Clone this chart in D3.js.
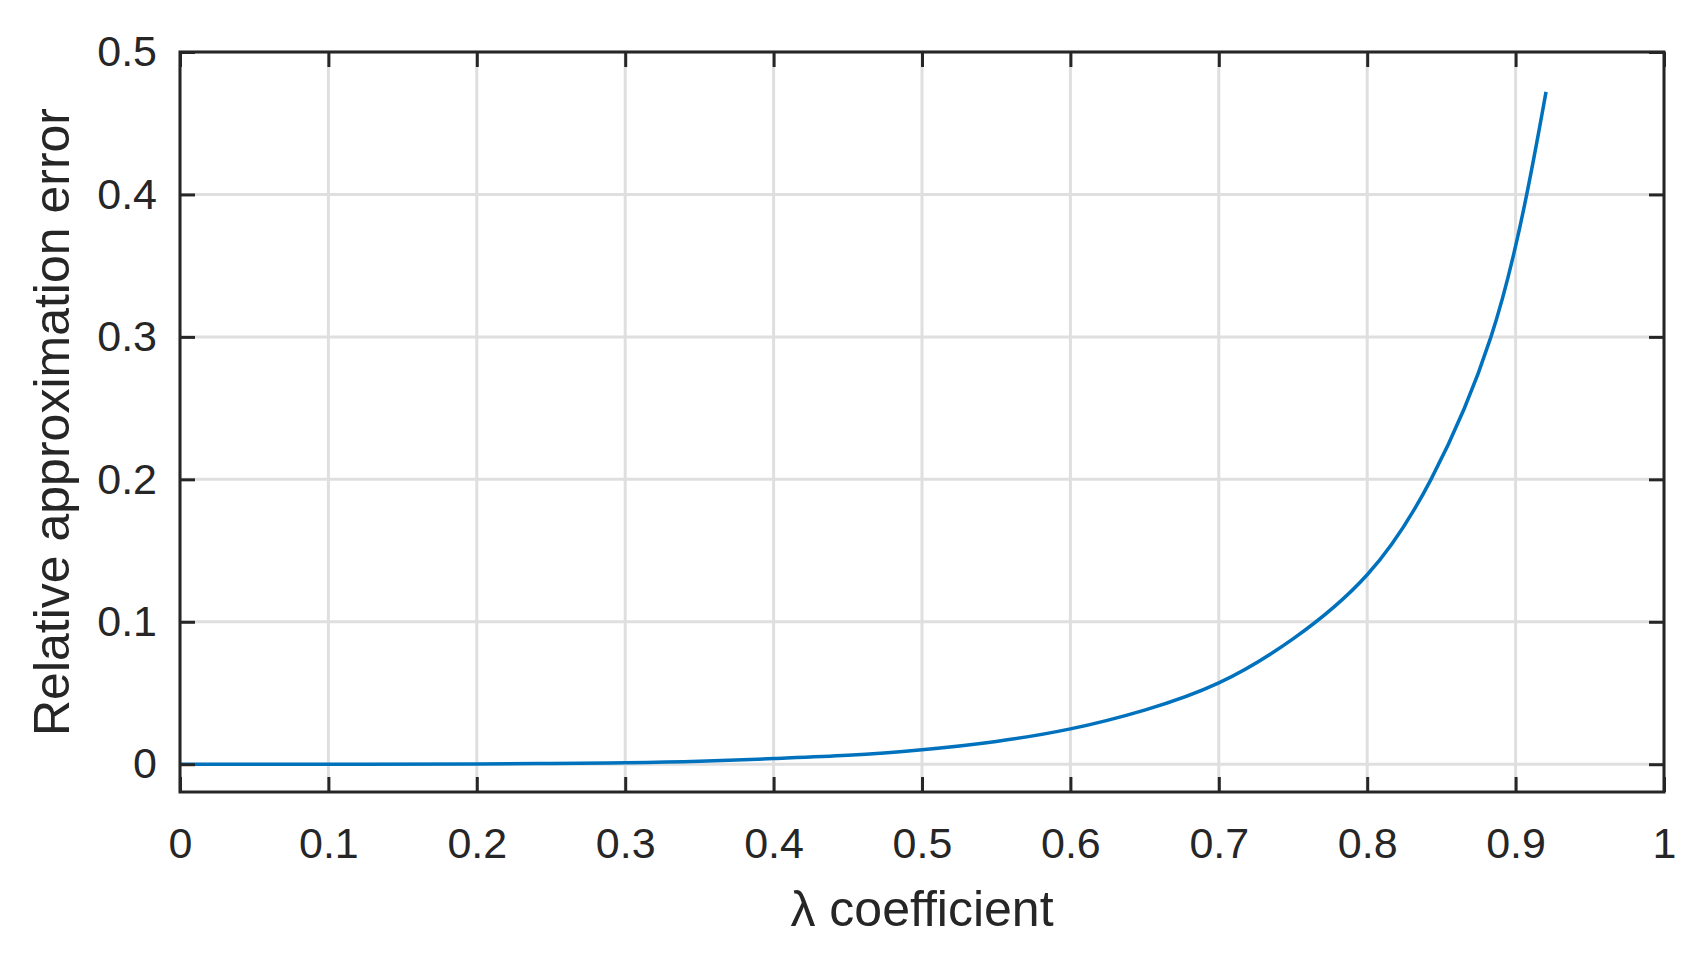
<!DOCTYPE html>
<html>
<head>
<meta charset="utf-8">
<script src="https://cdn.jsdelivr.net/npm/d3@7"></script>
<style>
  body { margin: 0; background: #fff; }
  svg text { font-family: "Liberation Sans", Arial, sans-serif; fill: #262626; }
</style>
</head>
<body>
<div id="chart"></div>
<script>
// values
const lambdaValues = [0, 0.1, 0.2, 0.25, 0.3, 0.35, 0.4, 0.45, 0.5, 0.55, 0.6, 0.65, 0.7, 0.75, 0.8, 0.843, 0.8834, 0.9075, 0.9205];
const errorValues = [0, 0.00001, 0.0002, 0.0005, 0.001, 0.002, 0.004, 0.0063, 0.0102, 0.016, 0.0248, 0.038, 0.0571, 0.088, 0.133, 0.2, 0.3, 0.4, 0.472];
const xTicks = [0, 0.1, 0.2, 0.3, 0.4, 0.5, 0.6, 0.7, 0.8, 0.9, 1];
const yTicks = [0, 0.1, 0.2, 0.3, 0.4, 0.5];

const W = 1708, H = 955;
const margin = {top: 52, right: 44, bottom: 163, left: 180};
const width = W - margin.left - margin.right;
const height = H - margin.top - margin.bottom;

const svg = d3.select("#chart").append("svg")
    .attr("width", W)
    .attr("height", H);

const g = svg.append("g")
    .attr("transform", `translate(${margin.left},${margin.top})`);

const x = d3.scaleLinear().domain([0, 1]).range([0, width]);
const y = d3.scaleLinear().domain([-0.0195, 0.5]).range([height, 0]);

// grid
g.append("g").selectAll("line").data(xTicks).join("line")
    .attr("x1", d => x(d)).attr("x2", d => x(d))
    .attr("y1", 0).attr("y2", height)
    .attr("stroke", "#dfdfdf").attr("stroke-width", 3);
g.append("g").selectAll("line").data(yTicks).join("line")
    .attr("x1", 0).attr("x2", width)
    .attr("y1", d => y(d)).attr("y2", d => y(d))
    .attr("stroke", "#dfdfdf").attr("stroke-width", 3);

// curve
const data = lambdaValues.map((d, i) => ({x: d, y: errorValues[i]}));
g.append("path")
    .datum(data)
    .attr("fill", "none")
    .attr("stroke", "#0072BD")
    .attr("stroke-width", 3.5)
    .attr("d", d3.line().x(d => x(d.x)).y(d => y(d.y)).curve(d3.curveNatural));

// axes with inward ticks on all four sides
const tickLen = 15;
const fmt = d => d3.format("")(d);
function styleAxis(sel) {
    sel.select(".domain").remove();
    sel.selectAll(".tick line").attr("stroke", "#262626").attr("stroke-width", 3);
    sel.selectAll(".tick text").style("font-size", "43px");
}
g.append("g").attr("transform", `translate(0,${height})`)
    .call(d3.axisBottom(x).tickValues(xTicks).tickFormat(fmt).tickSizeInner(-tickLen).tickPadding(35))
    .call(styleAxis);
g.append("g")
    .call(d3.axisTop(x).tickValues(xTicks).tickFormat("").tickSizeInner(-tickLen))
    .call(styleAxis);
g.append("g")
    .call(d3.axisLeft(y).tickValues(yTicks).tickFormat(fmt).tickSizeInner(-tickLen).tickPadding(23))
    .call(styleAxis);
g.append("g").attr("transform", `translate(${width},0)`)
    .call(d3.axisRight(y).tickValues(yTicks).tickFormat("").tickSizeInner(-tickLen))
    .call(styleAxis);

// box
g.append("rect")
    .attr("width", width).attr("height", height)
    .attr("fill", "none").attr("stroke", "#262626").attr("stroke-width", 3);

// labels
svg.append("text")
    .attr("x", margin.left + width / 2)
    .attr("y", 926)
    .attr("text-anchor", "middle")
    .style("font-size", "50px")
    .text("λ coefficient");

svg.append("text")
    .attr("transform", `translate(69,${margin.top + height / 2}) rotate(-90)`)
    .attr("text-anchor", "middle")
    .style("font-size", "50px")
    .text("Relative approximation error");
</script>
</body>
</html>
